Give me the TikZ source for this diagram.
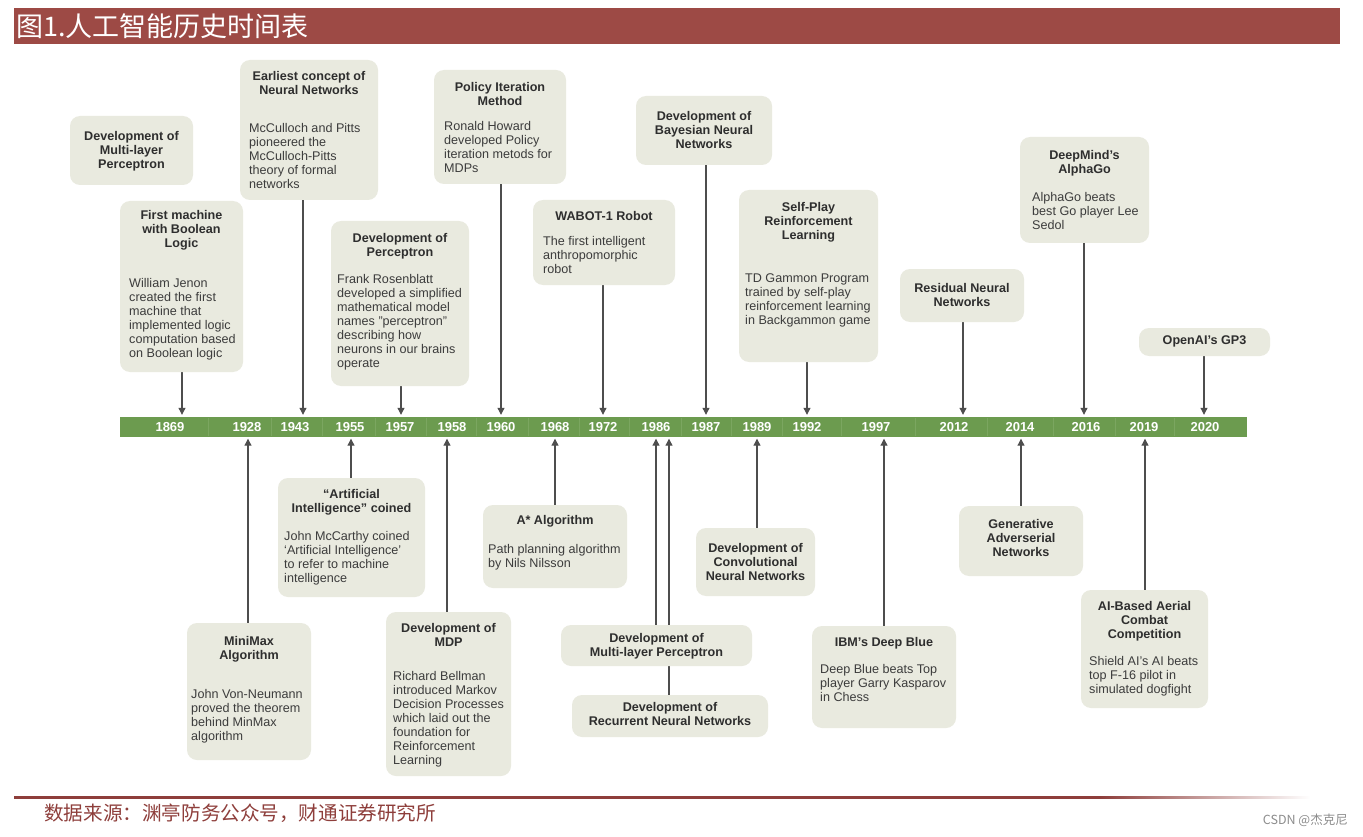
\documentclass[tikz,border=0pt]{standalone}
\usepackage{fontspec}
\setmainfont{Liberation Sans}
\newfontfamily\cjk{Noto Sans CJK SC}
\usetikzlibrary{arrows.meta,backgrounds}
\definecolor{hdr}{HTML}{9D4A45}
\definecolor{boxfill}{HTML}{E9EADF}
\definecolor{bargreen}{HTML}{6C9B4F}
\definecolor{barsep}{HTML}{7BA660}
\definecolor{conncol}{HTML}{4E4E4E}
\definecolor{titlecol}{HTML}{2E2E2E}
\definecolor{bodycol}{HTML}{3C3C3C}
\definecolor{footred}{HTML}{8E3E3B}
\newcommand\ebox[5]{\node[evbox, minimum width={#4-#2}, minimum height={#5-#3}] (#1) at ({(#2+#4)/2},{(#3+#5)/2}) {};}
\newcommand\etitle[4]{\node[evtitle, anchor=north] (#1-t) at (#2,#3) {#4};}
\newcommand\ebody[4]{\node[evbody, anchor=north west] (#1-b) at (#2,#3) {#4};}
\begin{document}
\begin{tikzpicture}[x=1pt,y=-1pt,
 evbox/.style={rectangle, rounded corners=10pt, fill=boxfill, inner sep=0pt},
 evtitle/.style={font=\fontsize{12.6}{14}\selectfont\bfseries, text=titlecol, align=center, inner sep=0pt},
 evbody/.style={font=\fontsize{12.6}{14}\selectfont, text=bodycol, align=left, inner sep=0pt},
 yearlbl/.style={font=\fontsize{13}{14}\selectfont\bfseries, text=white, inner sep=0pt},
 conn/.style={draw=conncol, line width=1.1pt},
 tip/.style={-{Triangle[width=7pt,length=7pt]}, shorten >=1.5pt},
]
\useasboundingbox (0,0) rectangle (1363,837);

% header
\fill[hdr] (14,8) rectangle (1340,44);
\node[font=\cjk\fontsize{27}{27}\selectfont, text=white, anchor=west, inner sep=0pt] (title) at (16,26) {图1.人工智能历史时间表};

% timeline bar
\node[rectangle, fill=bargreen, minimum width=1127, minimum height=20.5, inner sep=0pt] (bar) at (683.5,426.75) {};
\foreach \sx in {208.5,271,322.5,375,426,476.5,528,579,629.5,681,731.5,782,841.5,915,987,1053,1115,1174.5}
  \draw[barsep, line width=0.8pt] (\sx,417.5) -- (\sx,436);
\foreach \yr/\xx in {1869/170,1928/247,1943/295,1955/350,1957/400,1958/452,1960/501,1968/555,1972/603,1986/656,1987/706,1989/757,1992/807,1997/876,2012/954,2014/1020,2016/1086,2019/1144,2020/1205}
  \node[yearlbl] (y\yr) at (\xx,427) {\yr};

% ---------- upper boxes ----------
\ebox{mlptop}{70}{116}{193}{185}
\etitle{mlptop}{131.5}{131}{Development of\\Multi-layer\\Perceptron}

\ebox{boolean}{120}{201}{243}{372}
\etitle{boolean}{181.5}{210}{First machine\\with Boolean\\Logic}
\ebody{boolean}{129}{278}{William Jenon\\created the first\\machine that\\implemented logic\\computation based\\on Boolean logic}

\ebox{neural}{240}{60}{378}{200}
\etitle{neural}{309}{71}{Earliest concept of\\Neural Networks}
\ebody{neural}{249}{123}{McCulloch and Pitts\\pioneered the\\McCulloch-Pitts\\theory of formal\\networks}

\ebox{perceptron}{331}{221}{469}{386}
\etitle{perceptron}{400}{233}{Development of\\Perceptron}
\ebody{perceptron}{337}{274}{Frank Rosenblatt\\developed a simplified\\mathematical model\\names "perceptron"\\describing how\\neurons in our brains\\operate}

\ebox{policy}{434}{70}{566}{184}
\etitle{policy}{500}{82}{Policy Iteration\\Method}
\ebody{policy}{444}{121}{Ronald Howard\\developed Policy\\iteration metods for\\MDPs}

\ebox{wabot}{533}{200}{675}{285}
\etitle{wabot}{604}{211}{WABOT-1 Robot}
\ebody{wabot}{543}{236}{The first intelligent\\anthropomorphic\\robot}

\ebox{bayes}{636}{96}{772}{165}
\etitle{bayes}{704}{111}{Development of\\Bayesian Neural\\Networks}

\ebox{selfplay}{739}{190}{878}{362}
\etitle{selfplay}{808.5}{202}{Self-Play\\Reinforcement\\Learning}
\ebody{selfplay}{745}{274}{TD Gammon Program\\trained by self-play\\reinforcement learning\\in Backgammon game}

\ebox{residual}{900}{269}{1024}{322}
\etitle{residual}{962}{283}{Residual Neural\\Networks}

\ebox{alphago}{1020}{137}{1149}{243}
\etitle{alphago}{1084.5}{150}{DeepMind's\\AlphaGo}
\ebody{alphago}{1032}{192}{AlphaGo beats\\best Go player Lee\\Sedol}

\ebox{gp3}{1139}{328}{1270}{356}
\etitle{gp3}{1204.5}{336}{OpenAI's GP3}

% ---------- lower boxes ----------
\ebox{minimax}{187}{623}{311}{760}
\etitle{minimax}{249}{636}{MiniMax\\Algorithm}
\ebody{minimax}{191}{689}{John Von-Neumann\\proved the theorem\\behind MinMax\\algorithm}

\ebox{aicoined}{278}{478}{425}{597}
\etitle{aicoined}{351.5}{489}{“Artificial\\Intelligence” coined}
\ebody{aicoined}{284}{531}{John McCarthy coined\\‘Artificial Intelligence’\\to refer to machine\\intelligence}

\ebox{mdp}{386}{612}{511}{776}
\etitle{mdp}{448.5}{623}{Development of\\MDP}
\ebody{mdp}{393}{671}{Richard Bellman\\introduced Markov\\Decision Processes\\which laid out the\\foundation for\\Reinforcement\\Learning}

\ebox{astar}{483}{505}{627}{588}
\etitle{astar}{555}{515}{A* Algorithm}
\ebody{astar}{488}{544}{Path planning algorithm\\by Nils Nilsson}

\ebox{mlp}{561}{625}{752}{666}
\etitle{mlp}{656.5}{633}{Development of\\Multi-layer Perceptron}

\ebox{rnn}{572}{695}{768}{737}
\etitle{rnn}{670}{702}{Development of\\Recurrent Neural Networks}

\ebox{cnn}{696}{528}{815}{596}
\etitle{cnn}{755.5}{543}{Development of\\Convolutional\\Neural Networks}

\ebox{deepblue}{812}{626}{956}{728}
\etitle{deepblue}{884}{637}{IBM's Deep Blue}
\ebody{deepblue}{820}{664}{Deep Blue beats Top\\player Garry Kasparov\\in Chess}

\ebox{gan}{959}{506}{1083}{576}
\etitle{gan}{1021}{519}{Generative\\Adverserial\\Networks}

\ebox{aerial}{1081}{590}{1208}{708}
\etitle{aerial}{1144.5}{601}{AI-Based Aerial\\Combat\\Competition}
\ebody{aerial}{1089}{656}{Shield AI's AI beats\\top F-16 pilot in\\simulated dogfight}

% connector x positions
\foreach \cn/\cx in {kboolean/182,kneural/303,kperceptron/401,kpolicy/501,kwabot/603,kbayes/706,kselfplay/807,kresidual/963,kalphago/1084,kgp3/1204,kminimax/248,kaicoined/351,kmdp/447,kastar/555,kmlp/656,krnn/669,kcnn/757,kdeepblue/884,kgan/1021,kaerial/1145}
  \coordinate (\cn) at (\cx,426);

% connectors (behind boxes)
\begin{scope}[on background layer]
\fill[white] (0,0) rectangle (1363,837);
\foreach \b in {boolean,neural,perceptron,policy,wabot,bayes,selfplay,residual,alphago,gp3}
  \draw[conn,tip] (\b.south -| k\b) -- (bar.north -| k\b);
\foreach \b in {minimax,aicoined,mdp,astar,mlp,rnn,cnn,deepblue,gan,aerial}
  \draw[conn,tip] (\b.north -| k\b) -- (bar.south -| k\b);
\end{scope}

% footer
\fill[footred] (14,796) rectangle (1100,798.5);
\shade[left color=footred, right color=white] (1100,796) rectangle (1310,798.5);
\node[font=\cjk\fontsize{19.6}{20}\selectfont, text=footred, anchor=west, inner sep=0pt] (source) at (44,813) {数据来源：渊亭防务公众号，财通证券研究所};
\node[font=\cjk\fontsize{12.5}{13}\selectfont, text=black!45, anchor=east, inner sep=0pt] (csdn) at (1348,820) {CSDN @杰克尼};
\end{tikzpicture}
\end{document}
